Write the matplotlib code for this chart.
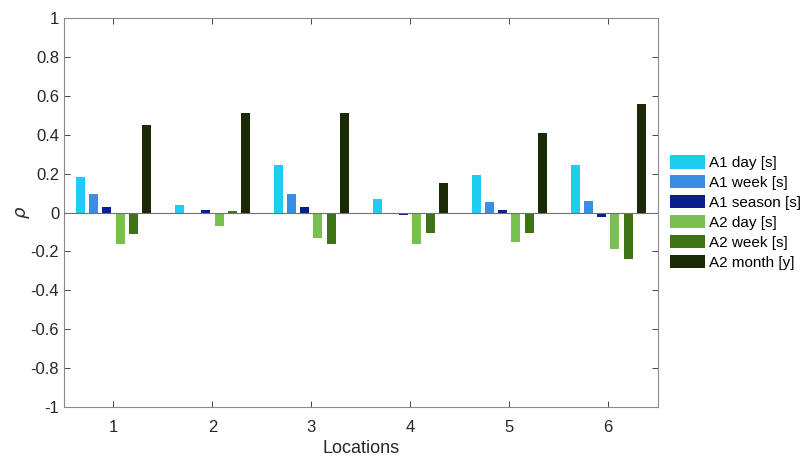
import numpy as np
import matplotlib.pyplot as plt

plt.rcParams['font.family'] = ['Liberation Sans', 'DejaVu Sans']

locations = [1, 2, 3, 4, 5, 6]
series_names = ['A1 day [s]', 'A1 week [s]', 'A1 season [s]',
                'A2 day [s]', 'A2 week [s]', 'A2 month [y]']
a1_day = [0.185, 0.04, 0.245, 0.07, 0.195, 0.245]
a1_week = [0.095, 0.0, 0.095, -0.01, 0.055, 0.06]
a1_season = [0.03, 0.015, 0.03, -0.015, 0.015, -0.025]
a2_day = [-0.16, -0.07, -0.13, -0.16, -0.15, -0.19]
a2_week = [-0.11, 0.01, -0.16, -0.105, -0.105, -0.24]
a2_month = [0.45, 0.51, 0.51, 0.15, 0.41, 0.56]
colors = ['#1fcdf2', '#3a8ee2', '#0b1f8c', '#78c04f', '#3d7314', '#1b2a06']

series = [a1_day, a1_week, a1_season, a2_day, a2_week, a2_month]

fig = plt.figure(figsize=(8.04, 4.59), dpi=100)
ax = fig.add_axes([0.0796, 0.113, 0.7384, 0.848])

x = np.array(locations)
step = 0.134
for i, vals in enumerate(series):
    offs = (i - 2.5) * step
    ax.bar(x + offs, vals, width=step * 0.68, color=colors[i],
           label=series_names[i], zorder=2)

ax.axhline(0, color='#707070', lw=0.8, zorder=3)
ax.set_xlim(0.5, 6.5)
ax.set_ylim(-1, 1)
ax.set_xticks(locations)
ax.set_yticks(np.arange(-1, 1.01, 0.2))
ax.set_yticklabels(['-1', '-0.8', '-0.6', '-0.4', '-0.2', '0',
                    '0.2', '0.4', '0.6', '0.8', '1'])
ax.tick_params(direction='in', top=True, right=True, labelsize=12,
               colors='#262626', length=4, width=0.6)
ax.tick_params(axis='x', pad=9)
for s in ax.spines.values():
    s.set_color('#8a8a8a')
    s.set_linewidth(0.8)
ax.set_xlabel('Locations', fontsize=13, color='#262626', labelpad=4)
ax.set_ylabel(r'$\rho$', fontsize=13, color='#262626', labelpad=-1)

ax.legend(loc='center left', bbox_to_anchor=(1.02, 0.50), frameon=False,
          fontsize=11, handlelength=2.3, handleheight=0.96,
          handletextpad=0.25, labelspacing=0.33, borderaxespad=0,
          borderpad=0)

fig.savefig('out.png', dpi=100)
